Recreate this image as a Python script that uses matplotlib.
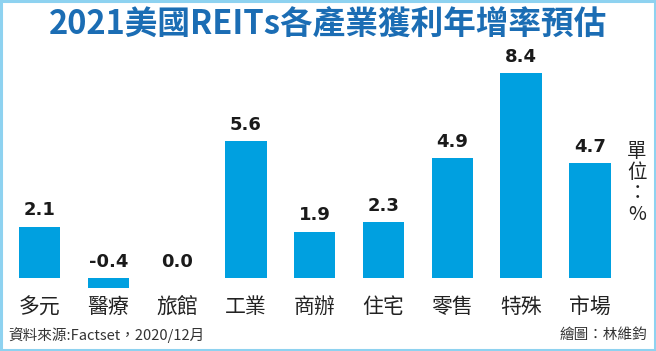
import matplotlib
matplotlib.use("Agg")
import matplotlib.pyplot as plt
from matplotlib.patches import Rectangle

plt.rcParams['font.family'] = ['Noto Sans CJK TC', 'DejaVu Sans']

categories = ["多元", "醫療", "旅館", "工業", "商辦", "住宅", "零售", "特殊", "市場"]
values = [2.1, -0.4, 0.0, 5.6, 1.9, 2.3, 4.9, 8.4, 4.7]
value_labels = ["2.1", "-0.4", "0.0", "5.6", "1.9", "2.3", "4.9", "8.4", "4.7"]
title = "2021美國REITs各產業獲利年增率預估"
source = "資料來源:Factset，2020/12月"
credit = "繪圖：林維鈞"
unit = "單\n位\n：\n%"

W, H = 656, 351
fig = plt.figure(figsize=(W / 100, H / 100), dpi=100)
ax = fig.add_axes([0, 0, 1, 1])
ax.set_axis_off()

# pixel mapping: centers at 39.5 + 68.8*i, baseline at y=278px, 24.4 px per unit
step = 68.8
x0 = 39.5
ppu = 24.4
base = 278
ax.set_xlim(-x0 / step, (W - x0) / step)
ax.set_ylim((base - H) / ppu, base / ppu)

bar_color = "#00a0e0"
xs = list(range(len(categories)))
ax.bar(xs, values, width=0.6, color=bar_color, zorder=2)

for x, v, lab in zip(xs, values, value_labels):
    top = max(v, 0)
    ax.text(x, top + 0.3, lab, ha="center", va="bottom", fontsize=13,
            fontweight="bold", color="#1a1a1a", family=["DejaVu Sans"])

for x, c in zip(xs, categories):
    ax.text(x, -1.2, c, ha="center", va="center", fontsize=15, color="#222222")

# title
fig.text(0.5, 1 - 24 / H, title, ha="center", va="center", fontsize=23.5,
         fontweight="bold", color="#1b6db4")

# unit (vertical)
fig.text(637 / W, 1 - 183 / H, unit, ha="center", va="center",
         fontsize=14, color="#222222", linespacing=1.0)

# footer
fig.text(8 / W, 1 - 335 / H, source, ha="left", va="center", fontsize=10.5,
         color="#333333")
fig.text(647 / W, 1 - 335 / H, credit, ha="right", va="center", fontsize=10.5,
         color="#333333")

# border frame
fig.patches.append(Rectangle((0.002, 0.003), 0.996, 0.994, transform=fig.transFigure,
                             fill=False, edgecolor="#8ed2f0", linewidth=2.2))

fig.savefig("out.png", dpi=100)
